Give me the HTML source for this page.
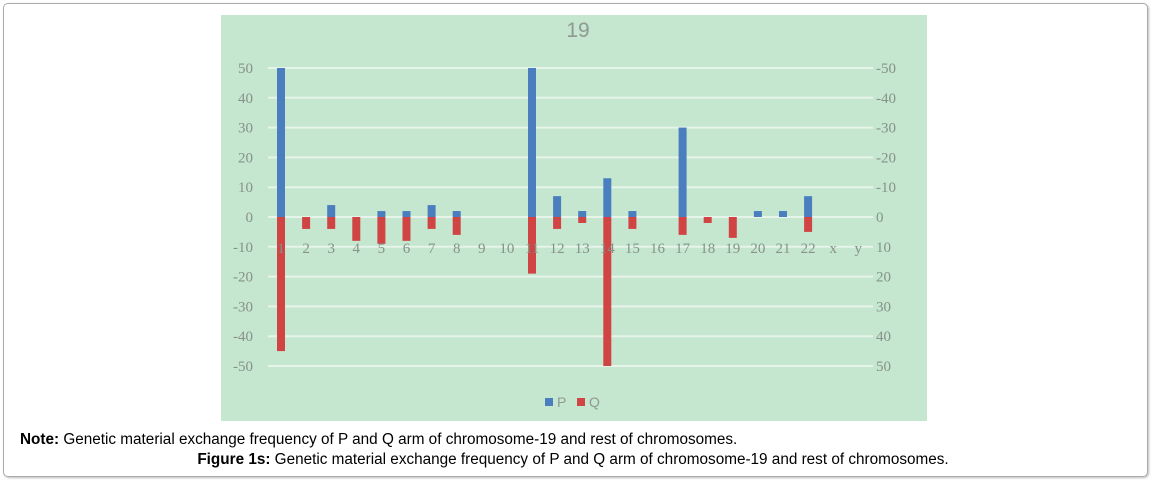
<!DOCTYPE html>
<html><head><meta charset="utf-8"><style>
html,body{margin:0;padding:0;background:#fff;}
body{width:1152px;height:481px;position:relative;overflow:hidden;font-family:"Liberation Sans",Arial,sans-serif;}
#frame{position:absolute;left:3px;top:3px;width:1143px;height:472px;border:1px solid #aaa;border-radius:5px;box-shadow:1px 1px 2px #bbb;}
#note{position:absolute;left:20px;top:431px;font-size:15.3px;color:#000;white-space:nowrap;}
#caption{position:absolute;left:0;width:1146px;text-align:center;top:451px;font-size:15.3px;color:#000;white-space:nowrap;}
svg{position:absolute;left:0;top:0;}
</style></head><body>
<div id="frame"></div>
<svg id="chart" width="1152" height="481">
  <rect x="221" y="15" width="706" height="406" fill="#c5e6cf"/>
  <text x="578" y="37" font-size="21" fill="#8e9a92" text-anchor="middle" font-family="Liberation Sans, sans-serif">19</text>
  <g id="grid"></g><g id="bars"></g><g id="labels"></g>
  <g>
    <rect x="545" y="398" width="8" height="8" fill="#4a7ebf"/>
    <text x="557" y="407" font-size="14" fill="#8e9a92">P</text>
    <rect x="577" y="398" width="8" height="8" fill="#d04444"/>
    <text x="589" y="407" font-size="14" fill="#8e9a92">Q</text>
  </g>
</svg>
<div id="note"><b>Note:</b> Genetic material exchange frequency of P and Q arm of chromosome-19 and rest of chromosomes.</div>
<div id="caption"><b>Figure 1s:</b> Genetic material exchange frequency of P and Q arm of chromosome-19 and rest of chromosomes.</div>
<script>
const categories=["1","2","3","4","5","6","7","8","9","10","11","12","13","14","15","16","17","18","19","20","21","22","x","y"];
const pValues=[50,0,4,0,2,2,4,2,0,0,50,7,2,13,2,0,30,0,0,2,2,7,0,0];
const qValues=[45,4,4,8,9,8,4,6,0,0,19,4,2,50,4,0,6,2,7,0,0,5,0,0];
const leftTicks=[50,40,30,20,10,0,-10,-20,-30,-40,-50];
const rightTicks=["-50","-40","-30","-20","-10","0","10","20","30","40","50"];
const NS="http://www.w3.org/2000/svg";
function yScale(v){return 217-v*2.98;}
function xCenter(i){return 281+i*25.1;}
const grid=document.getElementById('grid'),bars=document.getElementById('bars'),labels=document.getElementById('labels');
function mk(tag,attrs,parent){const e=document.createElementNS(NS,tag);for(const k in attrs)e.setAttribute(k,attrs[k]);parent.appendChild(e);return e;}
leftTicks.forEach((t,i)=>{
  const y=yScale(t);
  const g=mk('line',{x1:268,x2:873,y1:y,y2:y,stroke:'#e6f4ea','stroke-width':2},grid);
  
  
  const l=mk('text',{x:253,y:y+5,'font-size':15,fill:'#86928a','text-anchor':'end','font-family':'Liberation Serif, serif'},labels);
  l.textContent=t;
  
  
  const r=mk('text',{x:876,y:y+5,'font-size':15,fill:'#86928a','text-anchor':'start','font-family':'Liberation Serif, serif'},labels);
  r.textContent=rightTicks[i];
  
  
});
categories.forEach((c,i)=>{
  const x=xCenter(i);
  if(pValues[i]>0){
    const b=mk('rect',{x:x-4,y:yScale(pValues[i]),width:8,height:yScale(0)-yScale(pValues[i]),fill:'#4a7ebf'},bars);
    
    
  }
  if(qValues[i]>0){
    const b=mk('rect',{x:x-4,y:yScale(0),width:8,height:yScale(-qValues[i])-yScale(0),fill:'#d04444'},bars);
    
    
  }
  const t=mk('text',{x:x,y:253,'font-size':15,fill:'#86928a','text-anchor':'middle','font-family':'Liberation Serif, serif'},labels);
  t.textContent=c;
  
  
});
</script>
</body></html>
